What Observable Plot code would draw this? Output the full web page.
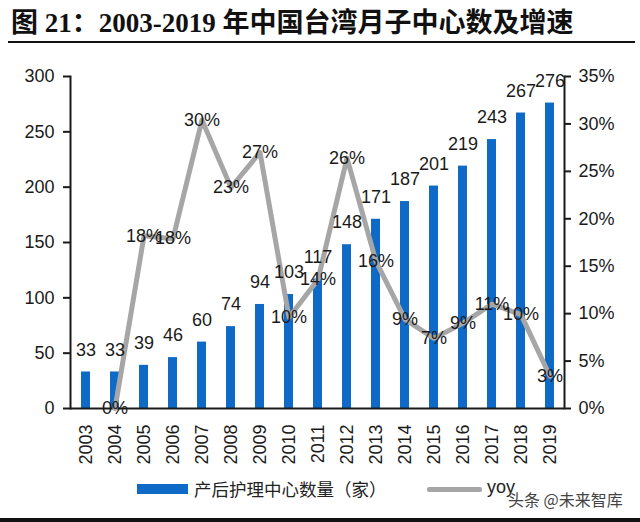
<!DOCTYPE html>
<html>
<head>
<meta charset="utf-8">
<script src="https://cdn.jsdelivr.net/npm/d3@7"></script>
<script src="https://cdn.jsdelivr.net/npm/@observablehq/plot@0.6"></script>
<style>
  html, body { margin: 0; padding: 0; background: #fff; }
  #root { position: relative; width: 640px; height: 522px; overflow: hidden; background: #fff; }
  #title { position: absolute; left: 11px; top: 6px; font-family: "Liberation Serif", "Noto Sans CJK SC", serif; font-weight: bold; font-size: 27px; line-height: 34px; color: #111; white-space: nowrap; }
  #rule { position: absolute; left: 8px; top: 41px; width: 627px; height: 2px; background: #111; }
  #chart { position: absolute; left: 0; top: 56px; }
  .leg { position: absolute; font-family: "Noto Sans CJK SC", sans-serif; color: #222; white-space: nowrap; }
  #bottom { position: absolute; left: 0; top: 518px; width: 640px; height: 4px; background: #111; }
</style>
</head>
<body>
<div id="root">
  <div id="title">图 21：2003-2019 年中国台湾月子中心数及增速</div>
  <div id="rule"></div>
  <div id="chart"></div>
  <div class="leg" style="left:137px;top:484px;width:51px;height:10px;background:#0E6AC6;"></div>
  <div class="leg" style="left:194px;top:476px;font-size:17.5px;line-height:26px;">产后护理中心数量（家）</div>
  <div class="leg" style="left:427px;top:487px;width:55px;height:5px;background:#A6A6A6;border-radius:2px;"></div>
  <div class="leg" style="left:487px;top:474px;font-size:18px;line-height:26px;font-family:'Liberation Sans',Arial,sans-serif;">yoy</div>
  <div class="leg" style="left:508px;top:488px;font-size:16px;line-height:22px;color:#444;text-shadow:0 0 2px #fff;">头条 @未来智库</div>
  <div id="bottom"></div>
</div>
<script>
const years = ["2003","2004","2005","2006","2007","2008","2009","2010","2011","2012","2013","2014","2015","2016","2017","2018","2019"];
const counts = [33,33,39,46,60,74,94,103,117,148,171,187,201,219,243,267,276];
const yoy = [null,0,18.2,17.9,30.4,23.3,27.0,9.6,13.6,26.4,15.5,9.4,7.4,9.0,11.0,9.9,3.4];
const leftTicks = [0,50,100,150,200,250,300];
const rightTicks = [0,5,10,15,20,25,30,35];

const K = 300 / 35; // percent -> left-axis units
const bars = years.map((y, i) => ({year: y, count: counts[i]}));
const line = years.map((y, i) => ({year: y, yoy: yoy[i]})).filter(d => d.yoy !== null);

const font = "'Liberation Sans', Arial, sans-serif";
const ink = "#1a1a1a";

const chart = Plot.plot({
  width: 640,
  height: 414,
  marginTop: 20,
  marginBottom: 62,
  marginLeft: 70,
  marginRight: 76,
  style: {fontFamily: font, fontSize: "18px", color: ink, background: "transparent"},
  x: {domain: years, paddingInner: 0.7, paddingOuter: 0.35, label: null},
  y: {domain: [0, 300], label: null},
  marks: [
    Plot.barY(bars, {x: "year", y: "count", fill: "#0E6AC6"}),
    Plot.ruleY([0], {stroke: ink, strokeWidth: 2}),
    Plot.frame({anchor: "left", stroke: ink, strokeWidth: 2}),
    Plot.frame({anchor: "right", stroke: ink, strokeWidth: 2}),
    Plot.axisY({anchor: "left", ticks: leftTicks, tickSize: 7, tickPadding: 9, fontSize: 18, stroke: ink, strokeWidth: 2, label: null}),
    Plot.axisY({anchor: "right", ticks: rightTicks.map(v => v * K), tickFormat: d => Math.round(d / K) + "%", tickSize: 6, tickPadding: 8, fontSize: 18, stroke: ink, strokeWidth: 2, label: null}),
    Plot.axisX({tickRotate: -90, tickSize: 0, tickPadding: 16, fontSize: 18, label: null}),
    Plot.line(line, {x: "year", y: d => d.yoy * K, stroke: "#A6A6A6", strokeWidth: 5}),
    Plot.text(bars, {x: "year", y: "count", text: d => String(d.count), dy: -22, fontSize: 18, fill: ink}),
    Plot.text(line, {x: "year", y: d => d.yoy * K, text: d => Math.round(d.yoy) + "%", fontSize: 18, fill: ink})
  ]
});
document.getElementById("chart").appendChild(chart);
</script>
</body>
</html>
